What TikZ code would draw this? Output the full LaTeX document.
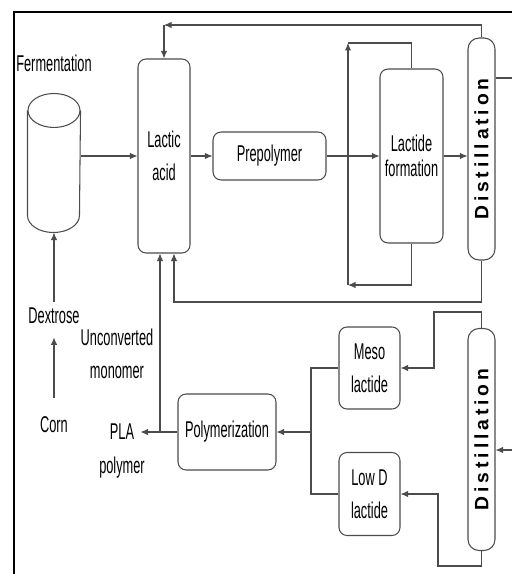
\documentclass[tikz,border=0pt]{standalone}
\usepackage{fontspec}
\setmainfont{Liberation Sans}[FakeStretch=0.56]
\newfontfamily\distfont{Liberation Sans}[LetterSpace=20]
\usetikzlibrary{arrows.meta,positioning}

\begin{document}
\begin{tikzpicture}[
    x=0.02cm, y=-0.02cm,
    line width=0.6pt,
    font=\fontsize{13}{19}\selectfont,
    box/.style={draw=black!70, rounded corners=0.16cm, align=center, inner sep=1pt},
    column/.style={draw=black!70, rounded corners=0.22cm, inner sep=0pt,
                   minimum width=0.54cm, minimum height=4.44cm},
    pipe/.style={draw=black!70},
    arrow/.style={pipe, -{Latex[length=1.5mm,width=1.3mm]}}
  ]
    \useasboundingbox (0,0) rectangle (512,574);
    \draw[line width=1.7pt] (14,574) |- (512,12);

    % fermenter
    \node[minimum width=1.04cm, minimum height=2.76cm, inner sep=0pt] (ferm) at (54,163) {};
    \draw[pipe] ([yshift=-0.34cm]ferm.north west) -- ([yshift=0.34cm]ferm.south west)
      arc[start angle=180, end angle=360, x radius=0.52cm, y radius=0.34cm]
      -- ([yshift=-0.34cm]ferm.north east);
    \draw[pipe] ([yshift=-0.34cm]ferm.north) ellipse[x radius=0.52cm, y radius=0.34cm];
    \node[above=0.3cm of ferm] (fermlbl) {Fermentation};

    \node[box, minimum width=1.04cm, minimum height=3.88cm] (la)   at (164,156)   {Lactic\\acid};
    \node[box, minimum width=2.26cm, minimum height=0.96cm] (pre)  at (269.5,156) {Prepolymer};
    \node[box, minimum width=1.26cm, minimum height=3.48cm,
          font=\fontsize{13}{14.5}\selectfont]             (lf)   at (411.5,156) {Lactide\\formation};
    \node[column] (dist1) at (481.5,149) {\rotatebox{90}{\distfont\bfseries\fontsize{11}{11}\selectfont Distillation}};

    \node (dex)  at (54,316) {Dextrose};
    \node (corn) at (54,425) {Corn};
    \node[align=center] (unconv) at (117,354) {Unconverted\\monomer};
    \node (pla) at (122,432) {PLA};
    \node[below=0.08cm of pla] (plapoly) {polymer};

    \node[box, minimum width=1.96cm, minimum height=1.52cm] (polym) at (227,432)   {Polymerization};
    \node[box, minimum width=1.22cm, minimum height=1.64cm] (meso)  at (369.5,368) {Meso\\lactide};
    \node[box, minimum width=1.22cm, minimum height=1.66cm] (lowd)  at (369.5,494) {Low D\\lactide};
    \node[column] (dist2) at (481.5,439.5) {\rotatebox{90}{\distfont\bfseries\fontsize{11}{11}\selectfont Distillation}};

    \coordinate (rt)   at (164,25);
    \coordinate (rb)   at (174,302);
    \coordinate (lb)   at (348,285);
    \coordinate (lt)   at (348,43);
    \coordinate (uc)   at (160,432);
    \coordinate (jn)   at (311,432);
    \coordinate (out1) at (512,78);
    \coordinate (in2)  at (512,450);

    % main line
    \draw[arrow, shorten <=0.26cm, shorten >=0.14cm] (corn) -- (dex);
    \draw[arrow] (dex) -- (ferm.south);
    \draw[arrow] (ferm.east |- la.west) -- (la.west);
    \draw[arrow] (la) -- (pre);
    \draw[arrow] (pre) -- (lf);
    \draw[arrow] (lf.east) -- (lf.east -| dist1.west);
    \draw[pipe] (out1 -| dist1.east) -- (out1);

    % recycles
    \draw[arrow] (dist1.north) |- (rt);
    \draw[arrow] (rt) -- (la.north);
    \draw[arrow] (dist1.south) |- (rb) -- (rb |- la.south);
    \draw[arrow] (lf.south) |- (lb);
    \draw[arrow] (lb) -- (lt);
    \draw[pipe] (lt) -| (lf.north);

    % polymerization
    \draw[arrow] (in2) -- (in2 -| dist2.east);
    \draw[arrow] (dist2.north) |- (434,312) |- (meso.east);
    \draw[arrow] (dist2.south) |- (438,566) |- (lowd.east);
    \draw[pipe] (meso.west) -| (jn);
    \draw[pipe] (lowd.west) -| (jn);
    \draw[arrow] (jn) -- (polym.east);
    \draw[arrow] (polym.west) -- (pla.east |- polym.west);
    \draw[arrow] (uc) -- (uc |- la.south);
  \end{tikzpicture}
\end{document}
